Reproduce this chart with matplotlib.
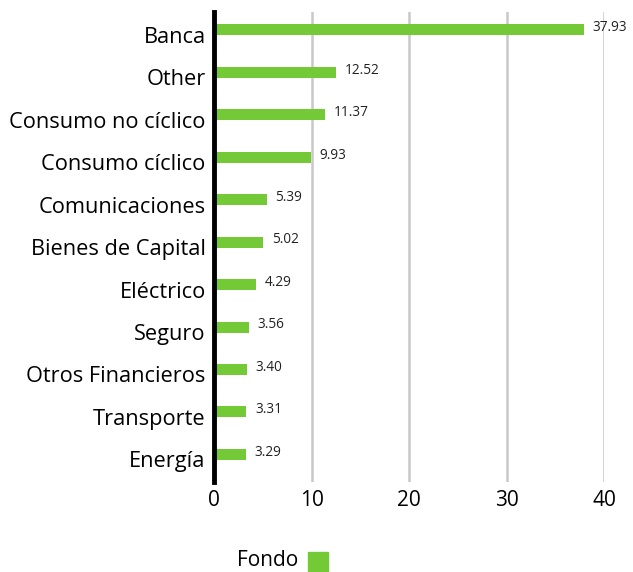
import matplotlib
matplotlib.use("Agg")
import matplotlib.pyplot as plt
import matplotlib.transforms as mtransforms
from matplotlib.patches import Rectangle

categories = ["Banca", "Other", "Consumo no cíclico", "Consumo cíclico",
              "Comunicaciones", "Bienes de Capital", "Eléctrico", "Seguro",
              "Otros Financieros", "Transporte", "Energía"]
fondo = [37.93, 12.52, 11.37, 9.93, 5.39, 5.02, 4.29, 3.56, 3.40, 3.31, 3.29]
x_ticks = [0, 10, 20, 30, 40]

GREEN = "#74c936"
plt.rcParams["font.family"] = ["Open Sans", "DejaVu Sans"]

fig = plt.figure(figsize=(6.33, 5.72), dpi=100)
ax = fig.add_axes([214 / 633, 90 / 572, 390 / 633, 470 / 572])

ypos = list(range(len(categories)))
ax.barh(ypos, fondo, height=0.26, color=GREEN, zorder=3)
for y, v in zip(ypos, fondo):
    ax.text(v + 0.9, y - 0.05, f"{v:.2f}", fontsize=9.8, va="center", ha="left",
            color="#222222")

ax.set_yticks(ypos)
ax.set_yticklabels(categories, fontsize=15.7)
ax.set_xticks(x_ticks)
ax.set_xticklabels([str(t) for t in x_ticks], fontsize=15)
ax.set_xlim(0, 40)
ax.set_ylim(10.65, -0.42)
ax.tick_params(axis="both", length=0)
ax.tick_params(axis="y", pad=6)
ax.tick_params(axis="x", pad=6)
# category labels sit a little below the bar centre in the reference
shift = mtransforms.ScaledTranslation(0, -5 / 100, fig.dpi_scale_trans)
for lbl in ax.get_yticklabels():
    lbl.set_transform(lbl.get_transform() + shift)
ax.grid(axis="x", color="#c8c8c8", linewidth=1.8, zorder=0)
for s in ["top", "right", "bottom"]:
    ax.spines[s].set_visible(False)
ax.spines["left"].set_linewidth(3.5)
ax.spines["left"].set_color("black")
ax.spines["left"].set_zorder(4)

fig.text(237 / 633, 1 - 561 / 572, "Fondo", fontsize=15, va="center", ha="left")
fig.patches.append(Rectangle((308 / 633, 0), 20 / 633, 20 / 572,
                             transform=fig.transFigure, color=GREEN))

fig.savefig("out.png", dpi=100)
